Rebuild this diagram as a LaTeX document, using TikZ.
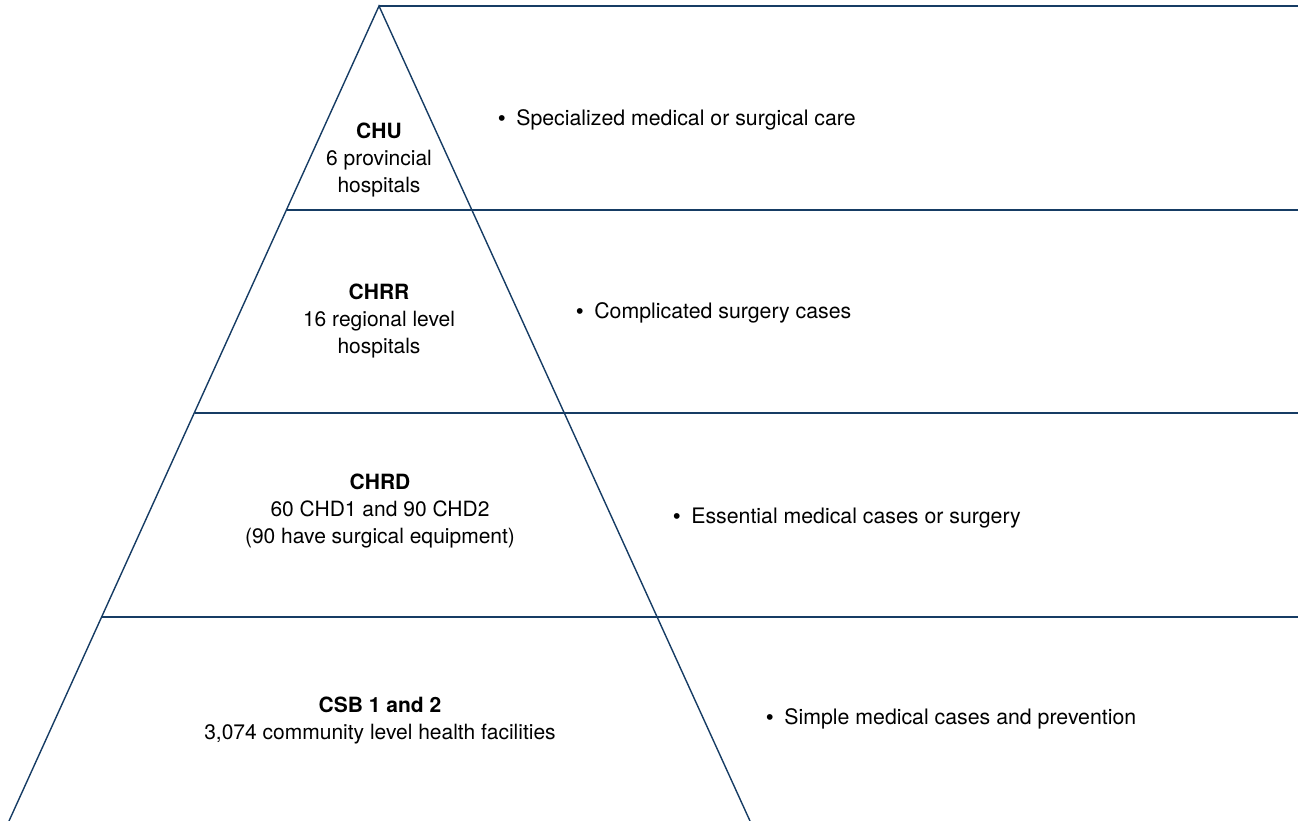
\documentclass[tikz,border=0pt]{standalone}
\usepackage{fontspec}
\setmainfont{TeX Gyre Heros}
\newfontfamily\bulletfont{Liberation Sans}
\definecolor{navy}{RGB}{22,60,100}
\newcommand{\bul}{{\bulletfont •}\hspace{0.5em}}
\tikzset{
  edge/.style={draw=navy, line width=1.4pt},
  lefttext/.style={align=center, inner sep=0pt, font=\fontsize{21}{27}\selectfont},
  righttext/.style={anchor=west, inner sep=0pt, font=\fontsize{21.3}{27}\selectfont}
}
\begin{document}
\begin{tikzpicture}[x=1pt,y=-1pt]
\useasboundingbox (0,0) rectangle (1298,821);
% pyramid
\coordinate (apex) at (379,6);
\coordinate (bl) at (9,821);
\coordinate (br) at (750,821);
\coordinate (r0) at (1298,6);
\coordinate (l1) at (286.5,210);
\coordinate (l2) at (194.5,413);
\coordinate (l3) at (102,617);
\coordinate (r1) at (1298,210);
\coordinate (r2) at (1298,413);
\coordinate (r3) at (1298,617);
\draw[edge] (bl) -- (apex) -- (br);
\draw[edge] (apex) -- (r0);
\draw[edge] (l1) -- (r1);
\draw[edge] (l2) -- (r2);
\draw[edge] (l3) -- (r3);
% left labels
\node[lefttext] (chu) at (379,160) {\textbf{CHU}\\6 provincial\\hospitals};
\node[lefttext] (chrr) at (379,321) {\textbf{CHRR}\\16 regional level\\hospitals};
\node[lefttext] (chrd) at (380,511) {\textbf{CHRD}\\60 CHD1 and 90 CHD2\\(90 have surgical equipment)};
\node[lefttext] (csb) at (380,721) {\textbf{CSB 1 and 2}\\3,074 community level health facilities};
% right labels
\node[righttext] (t1) at (498,120) {\bul Specialized medical or surgical care};
\node[righttext] (t2) at (576,313) {\bul Complicated surgery cases};
\node[righttext] (t3) at (673,518) {\bul Essential medical cases or surgery};
\node[righttext] (t4) at (766,719) {\bul Simple medical cases and prevention};
\end{tikzpicture}
\end{document}
